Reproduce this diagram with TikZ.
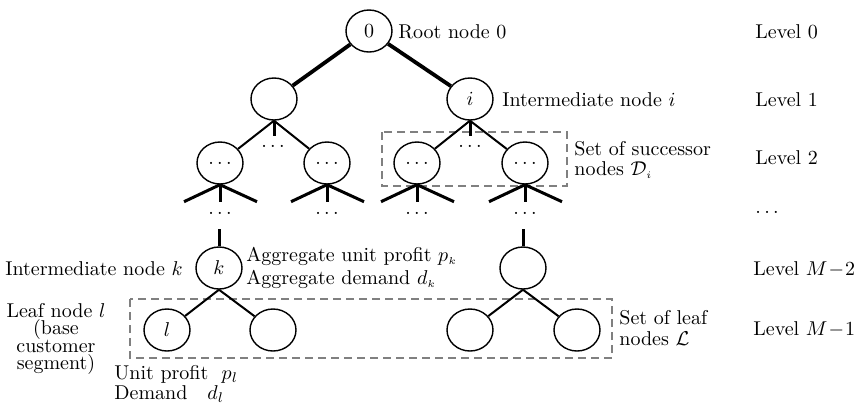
\documentclass[tikz,border=0pt]{standalone}
\usetikzlibrary{shapes.geometric}

\tikzset{
  tnode/.style={ellipse, draw, line width=0.7pt, minimum width=23pt, minimum height=21pt, inner sep=0pt},
  rootedge/.style={line width=1.9pt},
  thinedge/.style={line width=1pt},
  stem/.style={line width=1.5pt},
  foot/.style={line width=1.5pt},
  setbox/.style={draw=gray, dashed, dash pattern=on 4pt off 2.5pt, line width=1pt},
  lbl/.style={inner sep=0pt, anchor=west},
}

\begin{document}
\begin{tikzpicture}[x=0.5pt, y=-0.5pt]
\useasboundingbox (0,0) rectangle (862,403);

% tree nodes
\node[tnode] (n0)  at (369,31)  {$0$};
\node[tnode] (n1a) at (274,99)  {};
\node[tnode] (n1b) at (470,99)  {$i$};
\node[tnode] (n2a) at (220,163) {$\ldots$};
\node[tnode] (n2b) at (327,163) {$\ldots$};
\node[tnode] (n2c) at (417,163) {$\ldots$};
\node[tnode] (n2d) at (525,163) {$\ldots$};
\node[tnode] (nk)  at (219,268) {$k$};
\node[tnode] (nm)  at (523,268) {};
\node[tnode] (nl)  at (167,330) {$l$};
\node[tnode] (n3b) at (273,330) {};
\node[tnode] (n3c) at (470,330) {};
\node[tnode] (n3d) at (577,330) {};

% dashed set boxes
\draw[setbox] (382,132) rectangle (567,186);
\draw[setbox] (130,299) rectangle (612,358);

% root edges
\draw[rootedge] (n0) -- (n1a);
\draw[rootedge] (n0) -- (n1b);

% level 1 to level 2
\foreach \p/\a/\b in {n1a/n2a/n2b, n1b/n2c/n2d}{
  \draw[thinedge] (\p.south) -- (\a);
  \draw[thinedge] (\p.south) -- (\b);
  \draw[stem] (\p.south) -- ++(0,15);
}
\node (d1a) at (273,146) {$\ldots$};
\node (d1b) at (470,146) {$\ldots$};

% crow's feet under level 2
\foreach \c in {n2a,n2b,n2c,n2d}{
  \draw[foot] (\c.south) -- ++(-36,17);
  \draw[foot] (\c.south) -- ++(0,17);
  \draw[foot] (\c.south) -- ++(37,17);
  \node (d\c) at ([yshift=-14.5pt]\c.south) {$\ldots$};
}

% stems into level M-2
\coordinate (sk) at (219,229);
\coordinate (sm) at (523,229);
\draw[stem] (sk) -- (nk.north);
\draw[stem] (sm) -- (nm.north);

% level M-2 to leaves
\draw[thinedge] (nk.south) -- (nl);
\draw[thinedge] (nk.south) -- (n3b);
\draw[thinedge] (nm.south) -- (n3c);
\draw[thinedge] (nm.south) -- (n3d);

% annotations
\node[lbl] (t0) at (398,32) {Root node $0$};
\node[lbl] (ti) at (502,100) {Intermediate node $i$};
\node[lbl, align=left] (tsucc) at (574,160) {Set of successor\\[-2pt]nodes $\mathcal{D}_{\scriptscriptstyle i}$};
\node[lbl, anchor=east] (tk) at (183,269) {Intermediate node $k$};
\node[lbl, align=left] (tagg) at (246,268) {Aggregate unit profit $p_{\scriptscriptstyle k}$\\[-0.5pt]Aggregate demand $d_{\scriptscriptstyle k}$};
\node[lbl, align=center, anchor=center] (tleaf) at (56,339) {Leaf node $l$\\[-3.2pt](base\\[-3.2pt]customer\\[-3.2pt]segment)};
\node[lbl, align=left] (tset) at (619,328) {Set of leaf\\[-1.5pt]nodes $\mathcal{L}$};
\node[lbl, align=left, anchor=north west] (tunit) at (114,365) {Unit profit~~$p_l$\\[-2pt]Demand~~~$d_l$};

% level column
\node[lbl] (lv0) at (755,32)  {Level $0$};
\node[lbl] (lv1) at (755,100) {Level $1$};
\node[lbl] (lv2) at (755,158) {Level $2$};
\node[lbl] (lvd) at (755,212) {$\ldots$};
\node[lbl] (lvm2) at (753,269) {Level {\medmuskip=1mu $M-2$}};
\node[lbl] (lvm1) at (753,329) {Level {\medmuskip=1mu $M-1$}};
\end{tikzpicture}
\end{document}
